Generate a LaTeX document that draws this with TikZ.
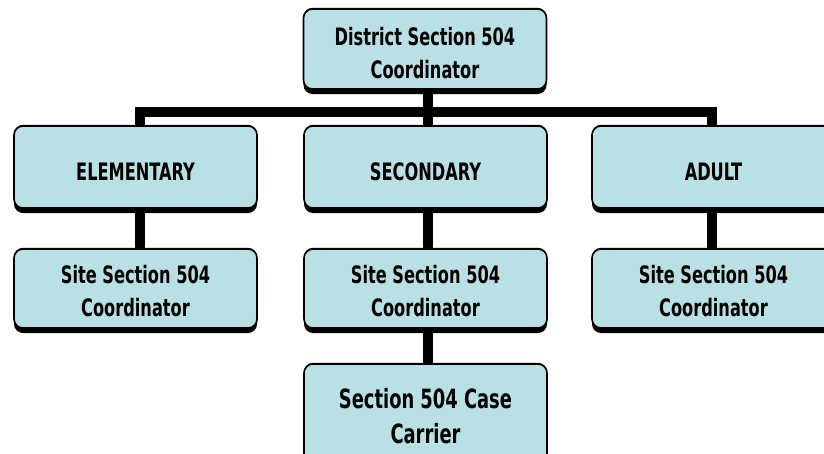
\documentclass[tikz,border=0pt]{standalone}
\usepackage{fontspec}
\newfontfamily\bx[FakeStretch=0.75]{DejaVu Sans Condensed}
\usetikzlibrary{shadows,backgrounds}
\definecolor{boxblue}{RGB}{185,224,228}
\begin{document}
\begin{tikzpicture}[x=1pt,y=-1pt,
  box/.style={draw=black, line width=1.6pt, fill=boxblue, rounded corners=9pt,
    inner sep=0pt, minimum width=243pt,
    general shadow={fill=black, shadow yshift=-5pt},
    general shadow={fill=black, shadow yshift=1.2pt}},
  lbl/.style={align=center, inner sep=0pt,
    font=\bx\bfseries\fontsize{24}{33}\selectfont},
  biglbl/.style={align=center, inner sep=0pt,
    font=\bx\bfseries\fontsize{26.5}{35}\selectfont},
  conn/.style={draw=black, line width=10pt}]
\useasboundingbox (0,0) rectangle (824,453);
\clip (0,0) rectangle (824,453);
\node[box, minimum height=80pt,
  label={[lbl, yshift=-4pt]center:{District Section 504\\Coordinator}}] (top) at (425,49) {};
\node[box, minimum height=82pt,
  label={[lbl, yshift=-4.5pt]center:{ELEMENTARY}}] (elem) at (135.5,167) {};
\node[box, minimum height=82pt,
  label={[lbl, yshift=-4.5pt]center:{SECONDARY}}] (sec) at (425.5,167) {};
\node[box, minimum height=82pt,
  label={[lbl, yshift=-4.5pt]center:{ADULT}}] (adult) at (713.5,167) {};
\node[box, minimum height=79pt,
  label={[lbl, yshift=-3pt]center:{Site Section 504\\Coordinator}}] (site1) at (135.5,288.5) {};
\node[box, minimum height=79pt,
  label={[lbl, yshift=-3pt]center:{Site Section 504\\Coordinator}}] (site2) at (425.5,288.5) {};
\node[box, minimum height=79pt,
  label={[lbl, yshift=-3pt]center:{Site Section 504\\Coordinator}}] (site3) at (713.5,288.5) {};
\node[box, minimum height=104pt,
  label={[biglbl]center:{Section 504 Case\\Carrier}}] (case) at (425.5,416) {};
\coordinate (bl) at (140,112);
\coordinate (bm) at (427.5,112);
\coordinate (br) at (712,112);
\begin{scope}[on background layer]
\draw[conn] (top.south -| bm) -- (bm);
\draw[conn] (elem.north -| bl) |- (br) -- (adult.north -| br);
\draw[conn] (bm) -- (sec.north -| bm);
\draw[conn] (elem.south -| bl) -- (site1.north -| bl);
\draw[conn] (sec.south -| bm) -- (site2.north -| bm);
\draw[conn] (adult.south -| br) -- (site3.north -| br);
\draw[conn] (site2.south -| bm) -- (case.north -| bm);
\end{scope}
\end{tikzpicture}
\end{document}
